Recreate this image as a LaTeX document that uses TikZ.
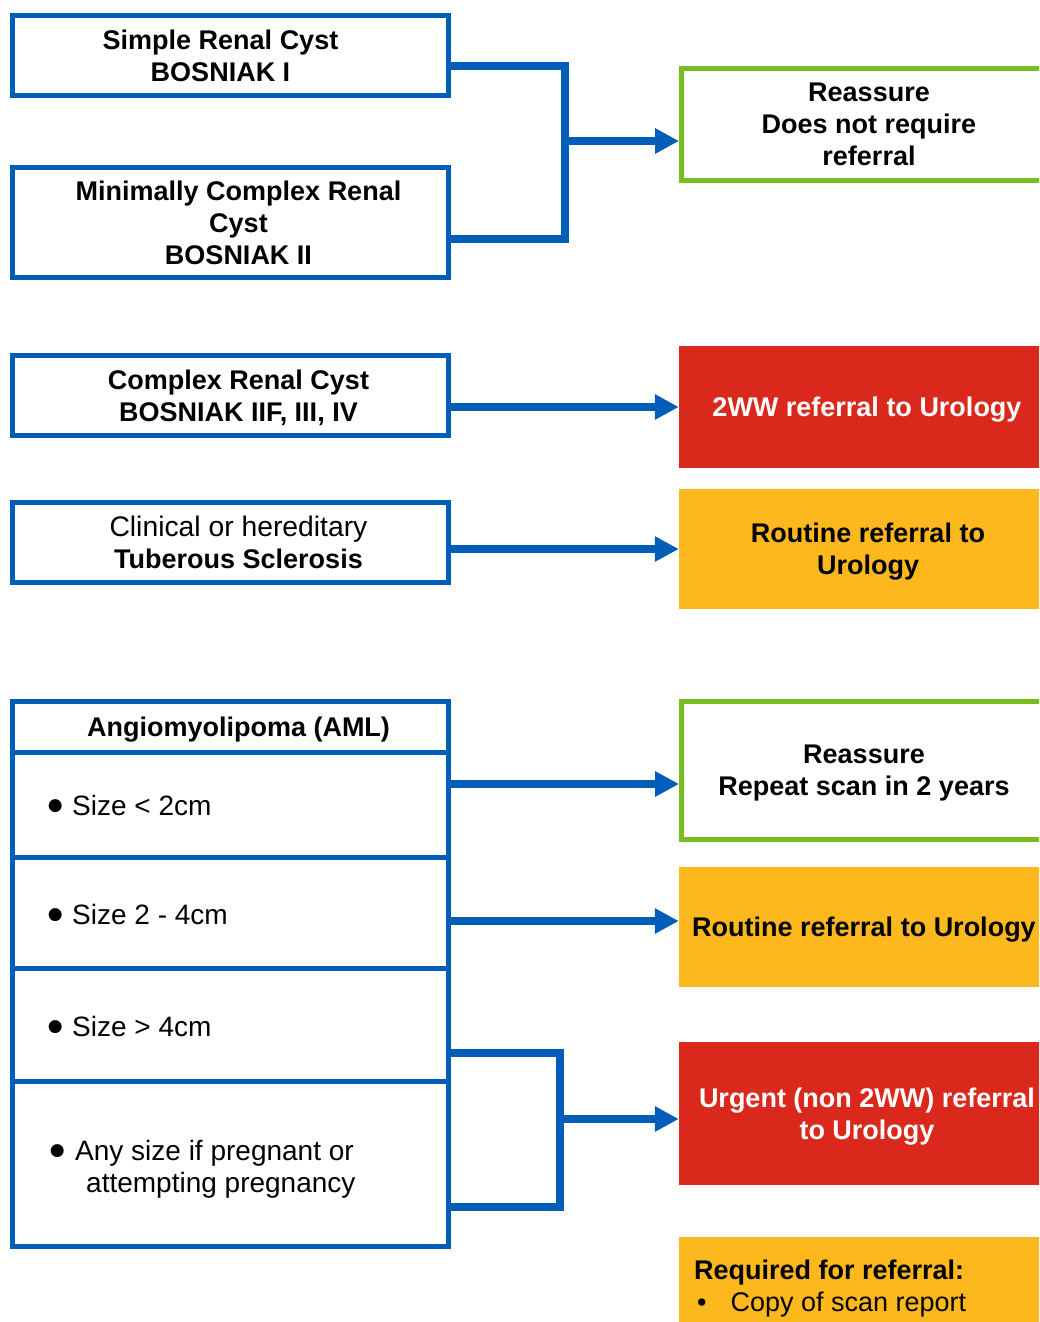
\documentclass[tikz,border=0pt]{standalone}
\usepackage{fontspec}
\setmainfont{Liberation Sans}
\newfontfamily\symfont{DejaVu Sans}
\usetikzlibrary{arrows.meta}
\definecolor{nhsblue}{HTML}{005EB8}
\definecolor{nhsgreen}{HTML}{78BE20}
\definecolor{nhsred}{HTML}{DA291C}
\definecolor{nhsyellow}{HTML}{FDB81E}
% round list bullet, centred in a fixed-width slot
\newcommand\dotmark{\makebox[12pt][c]{\raisebox{5pt}{\symfont\fontsize{17}{17}\selectfont ●}}}
\begin{document}
\begin{tikzpicture}[x=1pt,y=-1pt,
  lbox/.style={draw=nhsblue,line width=5pt,inner sep=0pt,minimum width=436pt},
  gbox/.style={draw=nhsgreen,line width=5pt,inner sep=0pt,
    font=\fontsize{27}{32}\selectfont\bfseries,align=center,text depth=0pt},
  fbox/.style={fill=#1,inner sep=0pt,
    font=\fontsize{27}{32}\selectfont\bfseries,align=center,text depth=0pt},
  btxt/.style={inner sep=0pt,font=\fontsize{27}{32}\selectfont\bfseries,align=center},
  rtxt/.style={inner sep=0pt,font=\fontsize{28}{32}\selectfont,align=left,anchor=west},
  conn/.style={draw=nhsblue,line width=7.5pt},
  arr/.style={conn,-{Triangle[length=24pt,width=24pt]}}]
\useasboundingbox (0,0) rectangle (1039,1322);
\clip (0,0) rectangle (1039,1322);

% left-hand condition boxes
\node[lbox,minimum height=80pt]  (b1) at (230.5,55.5) {};
\node[lbox,minimum height=110pt] (b2) at (230.5,222.5) {};
\node[lbox,minimum height=80pt]  (b3) at (230.5,395.5) {};
\node[lbox,minimum height=80pt]  (b4) at (230.5,542.5) {};
\node[btxt] (t1) at (220.5,55.5) {Simple Renal Cyst\\BOSNIAK I};
\node[btxt] (t2) at (238.5,222.5) {Minimally Complex Renal\\Cyst\\BOSNIAK II};
\node[btxt] (t3) at (238.5,397.5) {Complex Renal Cyst\\BOSNIAK IIF, III, IV};
\node[btxt] (t4) at (238.5,542.5) {\mdseries\fontsize{28.3}{32}\selectfont Clinical or hereditary\\Tuberous Sclerosis};

% angiomyolipoma table
\node[lbox,minimum height=50.5pt]  (a0) at (230.5,726.75) {};
\node[lbox,minimum height=105pt]   (a1) at (230.5,804.5) {};
\node[lbox,minimum height=111pt]   (a2) at (230.5,912.5) {};
\node[lbox,minimum height=113pt]   (a3) at (230.5,1024.5) {};
\node[lbox,minimum height=165.5pt] (a4) at (230.5,1163.75) {};
\node[btxt] (a0t) at (238.5,730) {Angiomyolipoma (AML)};
\node[rtxt] (a1t) at (49,805) {\dotmark\hspace{11pt}Size < 2cm};
\node[rtxt] (a2t) at (49,914) {\dotmark\hspace{11pt}Size 2 - 4cm};
\node[rtxt] (a3t) at (49,1026) {\dotmark\hspace{11pt}Size > 4cm};
\node[rtxt] (a4t) at (51,1169) {\dotmark\hspace{12pt}Any size if pregnant or\\\hspace*{35pt}attempting pregnancy};

% outcome boxes (left edges at x = 679, right edges run off the page)
\node[gbox,minimum width=375pt,minimum height=112pt] (g1) at (869,124.5) {Reassure\\Does not require\\referral};
\node[fbox=nhsred,minimum width=376pt,minimum height=122pt,text=white] (r1) at (867,407) {2WW referral to Urology};
\node[fbox=nhsyellow,minimum width=378pt,minimum height=120pt] (y1) at (868,549) {Routine referral to\\Urology};
\node[gbox,minimum width=365pt,minimum height=138pt] (g2) at (864,770.5) {Reassure\\Repeat scan in 2 years};
\node[fbox=nhsyellow,minimum width=370pt,minimum height=120pt] (y2) at (864,927) {Routine referral to Urology};
\node[fbox=nhsred,minimum width=376pt,minimum height=143pt,text=white] (r2) at (867,1113.5) {Urgent (non 2WW) referral\\to Urology};
\node[fbox=nhsyellow,minimum width=376pt,minimum height=93pt] (y3) at (867,1283.5) {};
\node[rtxt,font=\fontsize{27}{32}\selectfont] (y3t) at (694,1289) {\textbf{Required for referral:}\\\hspace*{3pt}•\hspace{24pt}Copy of scan report};

% connectors
\coordinate (j1) at (565,141);
\draw[conn] ([yshift=-10.5pt]b1.east) -| (j1) |- ([yshift=-16.5pt]b2.east);
\draw[arr] (j1) -- (j1 -| g1.west);
\draw[arr] ([yshift=-11.5pt]b3.east) coordinate (s3) -- (s3 -| r1.west);
\draw[arr] ([yshift=-6.5pt]b4.east) coordinate (s4) -- (s4 -| y1.west);
\draw[arr] ([yshift=20.5pt]a1.east) coordinate (s5) -- (s5 -| g2.west);
\draw[arr] ([yshift=-8.5pt]a2.east) coordinate (s6) -- (s6 -| y2.west);
\coordinate (j2) at (560,1119);
\draw[conn] ([yshift=-28.5pt]a3.east) -| (j2) |- ([yshift=-43.25pt]a4.east);
\draw[arr] (j2) -- (j2 -| r2.west);
\end{tikzpicture}
\end{document}
